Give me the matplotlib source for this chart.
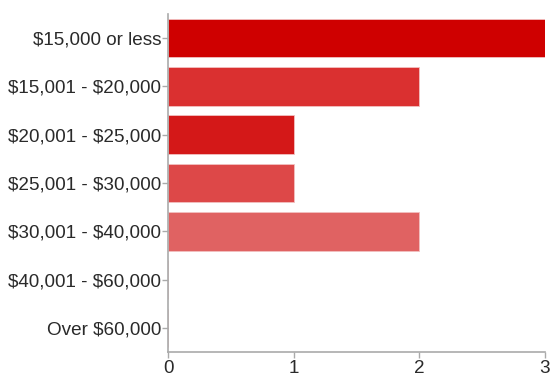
import matplotlib
matplotlib.use("Agg")
import matplotlib.pyplot as plt

categories = ["$15,000 or less", "$15,001 - $20,000", "$20,001 - $25,000",
              "$25,001 - $30,000", "$30,001 - $40,000", "$40,001 - $60,000",
              "Over $60,000"]
values = [3, 2, 1, 1, 2, 0, 0]
colors = ["#cf0000", "#da3030", "#d41818", "#dd4848", "#e06262", "#e57b7b", "#ea9494"]
xticks = [0, 1, 2, 3]

plt.rcParams['font.family'] = ['Liberation Sans', 'DejaVu Sans']
plt.rcParams['text.parse_math'] = False
fig = plt.figure(figsize=(5.5, 3.8), dpi=100)
ax = fig.add_axes([168/550, 1-352/380, (545-168)/550, (352-14)/380])

y = list(range(len(categories)))
ax.barh(y, values, height=0.8, color=colors, edgecolor="#f2c0c0", linewidth=0.6)
ax.set_ylim(len(categories)-0.5, -0.5)
ax.set_xlim(0, 3)
ax.set_yticks(y)
ax.set_yticklabels(categories)
ax.set_xticks(xticks)
ax.set_xticklabels([str(t) for t in xticks])
for s in ["top", "right"]:
    ax.spines[s].set_visible(False)
for s in ["left", "bottom"]:
    ax.spines[s].set_color("#aaaaaa")
    ax.spines[s].set_linewidth(1.2)
ax.tick_params(axis="both", colors="#aaaaaa", length=4, width=1, labelsize=13.6, labelcolor="#2a2a2a")
ax.tick_params(axis="y", pad=1)
ax.tick_params(axis="x", pad=2)
fig.savefig("out.png", dpi=100)
